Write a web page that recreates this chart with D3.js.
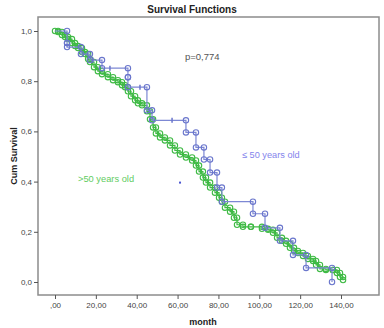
<!DOCTYPE html>
<html>
<head>
<meta charset="utf-8">
<script src="https://cdn.jsdelivr.net/npm/d3@7"></script>
<style>
  body { margin: 0; background: #fff; }
  text { font-family: "Liberation Sans", Arial, sans-serif; }
</style>
</head>
<body>
<div id="chart"></div>
<script>
// blue group (<= 50 years old): step points [month, survival]
var blueSteps = [
  [0, 1], [5.9, 0.952], [5.9, 0.936], [12.7, 0.908], [17.1, 0.884], [23.0, 0.852],
  [35.7, 0.816], [35.7, 0.776], [45.0, 0.684], [47.5, 0.644], [64.1, 0.596],
  [69.0, 0.536], [72.9, 0.488], [75.9, 0.436], [79.3, 0.376], [81.7, 0.32],
  [96.9, 0.272], [102.8, 0.216], [110.1, 0.164], [116.5, 0.108], [122.9, 0.056],
  [135.6, 0]
];
var blueTicks = [[18.6, 0.884], [26.9, 0.852], [41.6, 0.776], [57.3, 0.644]];
var blueStray = [[61.2, 0.396]];

// green group (>50 years old)
var greenPts = [
  [0, 1], [1.5, 0.996], [3.4, 0.984], [4.9, 0.976], [6.4, 0.968], [8.3, 0.952],
  [9.8, 0.94], [11.3, 0.932], [13.2, 0.916], [14.7, 0.908], [16.2, 0.888],
  [17.1, 0.876], [19.1, 0.856], [21.0, 0.84], [23.0, 0.828], [25.9, 0.816],
  [28.4, 0.804], [30.8, 0.796], [32.8, 0.784], [34.3, 0.776], [35.7, 0.76],
  [37.2, 0.74], [39.2, 0.724], [40.6, 0.712], [42.6, 0.704], [45.0, 0.68],
  [46.5, 0.648], [48.0, 0.616], [49.4, 0.592], [51.4, 0.576], [53.8, 0.564],
  [56.3, 0.544], [58.7, 0.524], [61.2, 0.508], [64.1, 0.496], [67.1, 0.484],
  [69.0, 0.464], [70.5, 0.44], [72.4, 0.416], [73.9, 0.396], [75.9, 0.376],
  [78.3, 0.356], [80.3, 0.336], [81.7, 0.32], [83.2, 0.296], [85.7, 0.28],
  [87.6, 0.256], [89.1, 0.228], [92.0, 0.22], [95.9, 0.22], [101.3, 0.212],
  [104.3, 0.208], [106.7, 0.196], [108.7, 0.176], [111.1, 0.164], [113.1, 0.152],
  [115.0, 0.136], [117.0, 0.124], [118.9, 0.116], [121.4, 0.104], [123.8, 0.092],
  [126.3, 0.084], [127.8, 0.068], [129.7, 0.052], [132.6, 0.048], [136.0, 0.048],
  [138.0, 0.036], [139.5, 0.02], [141.0, 0.008]
];

var yTicks = [0, 0.2, 0.4, 0.6, 0.8, 1.0];
var xTicks = [0, 20, 40, 60, 80, 100, 120, 140];

var width = 384, height = 328;
var blue = "#6a76cc", green = "#3fba45";

var svg = d3.select("#chart").append("svg")
  .attr("width", width).attr("height", height);

var x = d3.scaleLinear().domain([0, 140]).range([55, 341]);
var y = d3.scaleLinear().domain([0, 1]).range([282, 31]);

// frame
svg.append("rect")
  .attr("x", 38).attr("y", 17).attr("width", 341).attr("height", 278)
  .attr("fill", "none").attr("stroke", "#8c8c8c").attr("stroke-width", 1.5);

var comma = function(f) { return function(d) { return f(d).replace(".", ",").replace(/^0,/, ","); }; };

var yAxis = svg.append("g").attr("transform", "translate(38,0)")
  .call(d3.axisLeft(y).tickValues(yTicks).tickSize(4).tickPadding(2)
    .tickFormat(function(d) { return d3.format(".1f")(d).replace(".", ","); }));
var xAxis = svg.append("g").attr("transform", "translate(0,295)")
  .call(d3.axisBottom(x).tickValues(xTicks).tickSize(4).tickPadding(3)
    .tickFormat(comma(d3.format(".2f"))));
[yAxis, xAxis].forEach(function(a) {
  a.select(".domain").remove();
  a.selectAll("line").attr("stroke", "#555");
  a.selectAll("text").attr("font-size", 8).attr("fill", "#444")
    .attr("font-family", "'Liberation Sans', Arial, sans-serif");
});

var line = d3.line().x(function(d) { return x(d[0]); }).y(function(d) { return y(d[1]); })
  .curve(d3.curveStepAfter);

// green curve
svg.append("path").datum(greenPts).attr("d", line)
  .attr("fill", "none").attr("stroke", green).attr("stroke-width", 1.2);
var gCorners = [];
greenPts.forEach(function(d, i) {
  if (i > 0) gCorners.push([d[0], greenPts[i - 1][1]]);
  gCorners.push(d);
});
svg.append("g").selectAll("circle").data(gCorners).enter().append("circle")
  .attr("cx", function(d) { return x(d[0]); }).attr("cy", function(d) { return y(d[1]); })
  .attr("r", 2.7).attr("fill", "none").attr("stroke", green).attr("stroke-width", 1.1);

// blue curve
svg.append("path").datum(blueSteps).attr("d", line)
  .attr("fill", "none").attr("stroke", "#7d88d4").attr("stroke-width", 1.2);
var bCorners = [];
blueSteps.forEach(function(d, i) {
  if (i > 0) { bCorners.push([d[0], blueSteps[i - 1][1]]); bCorners.push(d); }
});
svg.append("g").selectAll("circle").data(bCorners).enter().append("circle")
  .attr("cx", function(d) { return x(d[0]); }).attr("cy", function(d) { return y(d[1]); })
  .attr("r", 2.7).attr("fill", "none").attr("stroke", blue).attr("stroke-width", 1.1);
svg.append("g").selectAll("line").data(blueTicks).enter().append("line")
  .attr("x1", function(d) { return x(d[0]); }).attr("x2", function(d) { return x(d[0]); })
  .attr("y1", function(d) { return y(d[1]) - 2.5; }).attr("y2", function(d) { return y(d[1]) + 2.5; })
  .attr("stroke", blue).attr("stroke-width", 1.5);
svg.append("g").selectAll("rect").data(blueStray).enter().append("rect")
  .attr("x", function(d) { return x(d[0]) - 1; }).attr("y", function(d) { return y(d[1]) - 1; })
  .attr("width", 2).attr("height", 2).attr("fill", "#4a55d0");

// texts
svg.append("text").attr("x", 192).attr("y", 13).attr("text-anchor", "middle")
  .attr("font-size", 10).attr("font-weight", "bold").attr("fill", "#222").text("Survival Functions");
svg.append("text").attr("x", 203).attr("y", 325).attr("text-anchor", "middle")
  .attr("font-size", 9).attr("font-weight", "bold").attr("fill", "#222").text("month");
svg.append("text").attr("transform", "translate(17,156) rotate(-90)").attr("text-anchor", "middle")
  .attr("font-size", 9).attr("font-weight", "bold").attr("fill", "#222").text("Cum Survival");
svg.append("text").attr("x", 185).attr("y", 60)
  .attr("font-size", 9.5).attr("fill", "#555").text("p=0,774");
svg.append("text").attr("x", 242).attr("y", 158)
  .attr("font-size", 9.2).attr("fill", "#8484ec").text("\u2264 50 years old");
svg.append("text").attr("x", 78).attr("y", 182)
  .attr("font-size", 9.3).attr("fill", "#62cc62").text(">50 years old");
</script>
</body>
</html>
